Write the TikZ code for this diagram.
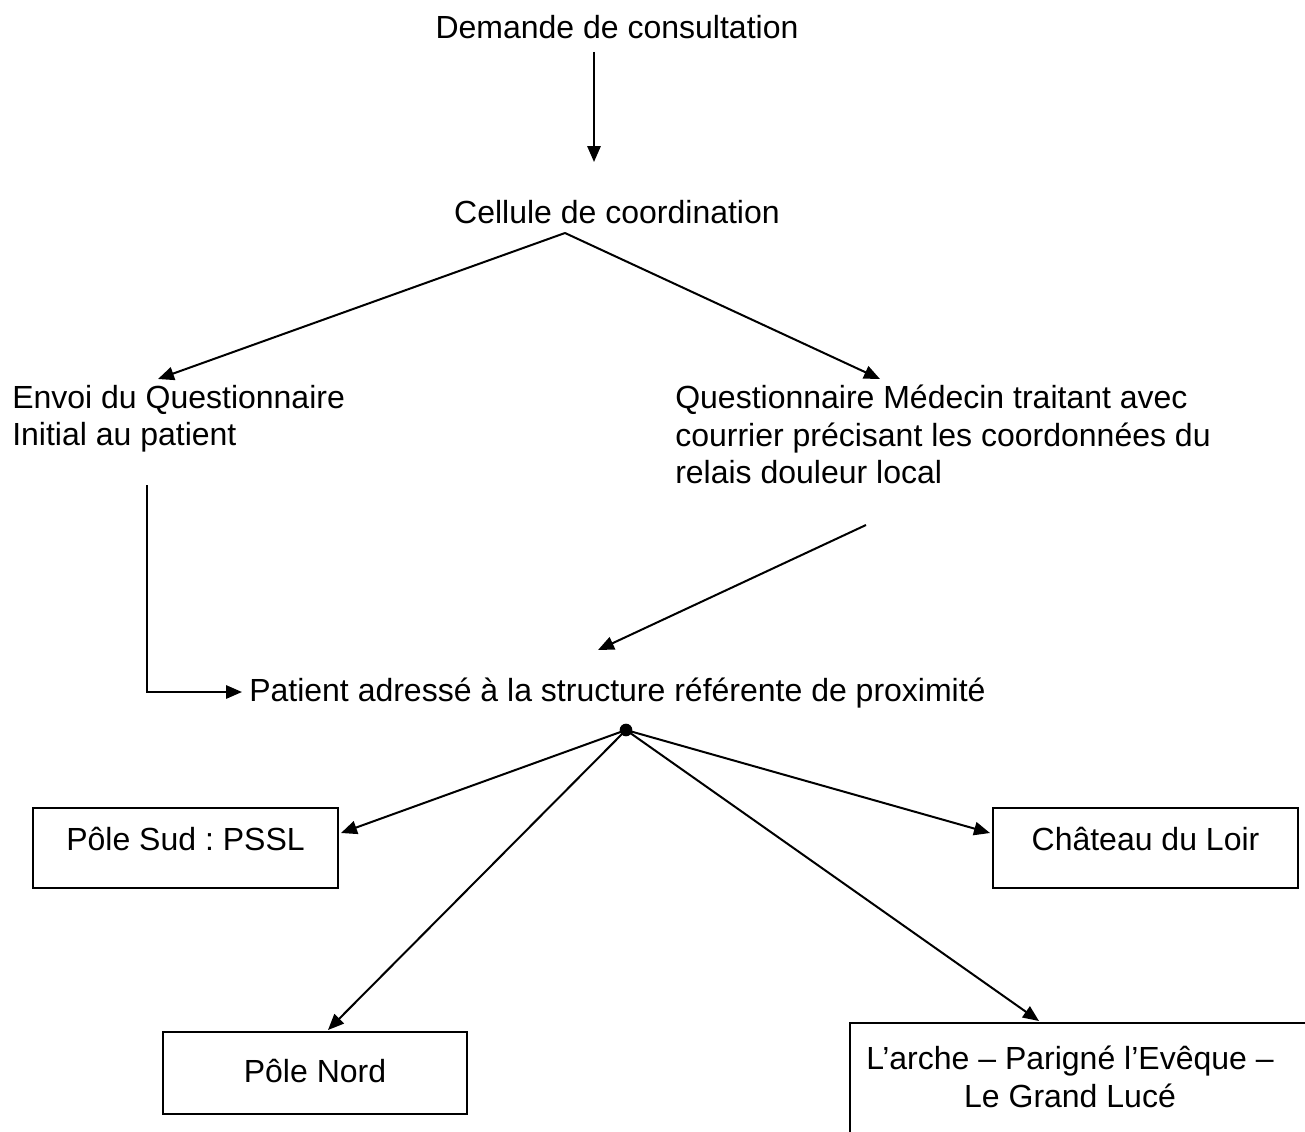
\documentclass[tikz,border=0pt]{standalone}
\usepackage{fontspec}
\setmainfont{Liberation Sans}
\usetikzlibrary{arrows.meta,calc}
\frenchspacing
\begin{document}
\begin{tikzpicture}[x=0.75pt,y=-0.75pt,
  lbl/.style={inner sep=0pt, font=\fontsize{24}{28}\selectfont},
  conn/.style={line width=1.5pt},
  arr/.style={conn,-{Triangle[length=12pt,width=10pt]}},
  boxn/.style={draw, line width=1.5pt, inner sep=0pt}]
\useasboundingbox (0,0) rectangle (1305,1131);

% text nodes
\node[lbl, anchor=base] (dem) at (617,39) {Demande de consultation};
\node[lbl, anchor=base] (cel) at (617,223) {Cellule de coordination};
\node[lbl, anchor=north west, align=left] (env) at (12,385) {Envoi du Questionnaire\\Initial au patient};
\node[lbl, anchor=north west, align=left] (que) at (675,385) {Questionnaire Médecin traitant avec\\courrier précisant les coordonnées du\\relais douleur local};
\node[lbl, anchor=base west] (pat) at (249,701) {Patient adressé à la structure référente de proximité};
\node[circle, fill, inner sep=0pt, minimum size=9.5pt] (hub) at (626,730) {};

% boxes
\node[boxn, minimum width=228.75pt, minimum height=60pt] (sud) at (185.5,848) {};
\node[lbl, anchor=base] (sudt) at (185.5,850) {Pôle Sud : PSSL};
\node[boxn, minimum width=228.75pt, minimum height=60pt] (chat) at (1145.5,848) {};
\node[lbl, anchor=base] (chatt) at (1145.5,850) {Château du Loir};
\node[boxn, minimum width=228pt, minimum height=61.5pt] (nord) at (315,1073) {};
\node[lbl, anchor=base] (nordt) at (315,1082) {Pôle Nord};
\node[boxn, minimum width=352.5pt, minimum height=95.25pt] (arche) at (1085,1086.5) {};
\node[lbl, align=center, anchor=north] (archet) at (1070,1046) {L’arche – Parigné l’Evêque –\\Le Grand Lucé};

% connector coordinates
\coordinate (a0) at (594,52);
\coordinate (a1) at (594,162);
\coordinate (c0) at (565,233);
\coordinate (c1) at (158,379);
\coordinate (c2) at (880,379);
\coordinate (e0) at (147,485);
\coordinate (e1) at (242,692);
\coordinate (q0) at (866,525);
\coordinate (q1) at (598,650);

% connectors
\draw[arr] (a0) -- (a1);
\draw[arr] (c0) -- (c1);
\draw[arr] (c0) -- (c2);
\draw[arr] (e0) |- (e1);
\draw[arr] (q0) -- (q1);
\draw[arr] (hub.center) -- ($(sud.north east)+(2,26)$);
\draw[arr] (hub.center) -- ($(chat.north west)+(-2,26)$);
\draw[arr] (hub.center) -- ($(nord.north)+(13,-1)$);
\draw[arr] (hub.center) -- ($(arche.north west)+(190,-1)$);
\end{tikzpicture}
\end{document}
